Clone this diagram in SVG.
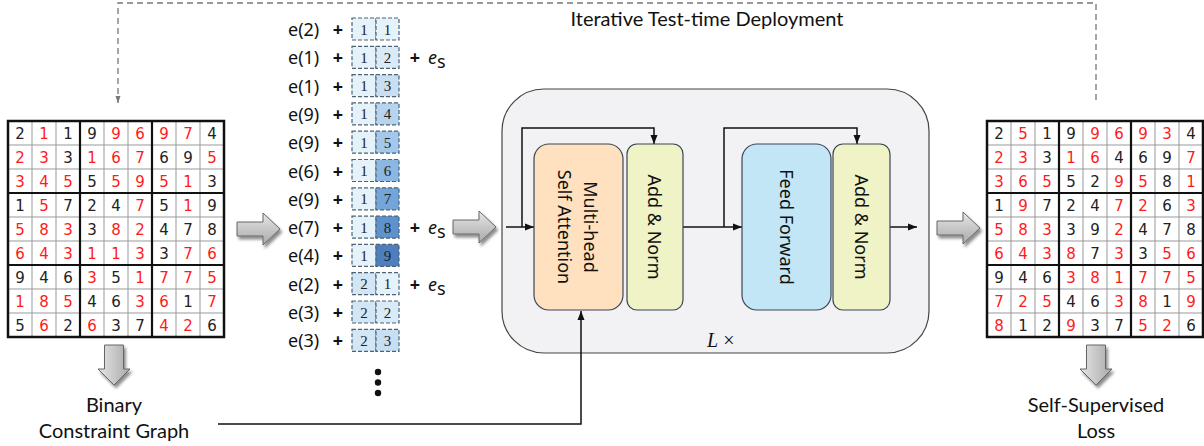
<svg xmlns="http://www.w3.org/2000/svg" xmlns:xlink="http://www.w3.org/1999/xlink" width="1204" height="446" viewBox="0 0 1204 446">
<style>
.r{fill:#ff1a1a}.k{fill:#222}
.sd text{font-family:"DejaVu Sans",sans-serif;font-size:15px;text-anchor:middle}
.lbl{font-family:Lato,"Noto Sans",sans-serif;font-size:20px;fill:#111;text-anchor:middle}
.tok{font-family:"Noto Sans",sans-serif;font-size:18px;fill:#111}
.plus{font-family:"Noto Sans",sans-serif;font-size:18px;font-weight:bold;fill:#111;text-anchor:middle}
.cell{stroke:#4d6375;stroke-width:1.2;stroke-dasharray:4 2}
.cd{font-family:"Liberation Serif",serif;font-size:15px;fill:#222;text-anchor:middle}
.blk{stroke:#3a4656;stroke-width:1.2}
.bt{font-family:"Noto Sans",sans-serif;font-size:18px;fill:#111;text-anchor:middle;dominant-baseline:central}
.ln{fill:none;stroke:#111;stroke-width:1.5}
.garrow{fill:url(#gg);stroke:#666;stroke-width:1;filter:url(#sh)}
</style>
<defs>
<linearGradient id="gg" x1="0" y1="0" x2="0" y2="1">
<stop offset="0" stop-color="#e6e6e6"/><stop offset="1" stop-color="#a9a9a9"/>
</linearGradient>
<linearGradient id="gd" x1="0" y1="0" x2="1" y2="0">
<stop offset="0" stop-color="#e6e6e6"/><stop offset="1" stop-color="#a9a9a9"/>
</linearGradient>
<filter id="sh" x="-30%" y="-30%" width="160%" height="160%">
<feGaussianBlur in="SourceAlpha" stdDeviation="1.5"/><feOffset dx="2" dy="3" result="b"/>
<feComponentTransfer><feFuncA type="linear" slope="0.45"/></feComponentTransfer>
<feMerge><feMergeNode/><feMergeNode in="SourceGraphic"/></feMerge>
</filter>
<marker id="ah" markerWidth="9" markerHeight="8" refX="9" refY="4" orient="auto" markerUnits="userSpaceOnUse"><path d="M0,0.5 L9,4 L0,7.5 Z" fill="#111"/></marker>
<marker id="ahg" markerWidth="7" markerHeight="6" refX="7" refY="3" orient="auto" markerUnits="userSpaceOnUse"><path d="M0,0.5 L7,3 L0,5.5 Z" fill="#777"/></marker>
<path id="rarr" d="M0,-7 H26 V-16 L43,0 L26,16 V7 H0 Z"/>
<path id="darr" d="M-9.5,0 H9.5 V24 H16 L0,40 L-16,24 H-9.5 Z"/>
<g id="gridlines">
<rect x="0" y="0" width="216" height="216" fill="#fff"/>
<path d="M24,0V216M48,0V216M96,0V216M120,0V216M168,0V216M192,0V216M0,24H216M0,48H216M0,96H216M0,120H216M0,168H216M0,192H216" stroke="#999" stroke-width="1" fill="none"/>
<path d="M72,0V216M144,0V216M0,72H216M0,144H216" stroke="#111" stroke-width="2.2" fill="none"/>
<rect x="0" y="0" width="216" height="216" fill="none" stroke="#111" stroke-width="2.5"/>
</g>
</defs>

<g id="transformer">
<rect x="502" y="89" width="427" height="264" rx="42" fill="#f2f2f5" stroke="#444" stroke-width="1.2"/>
<text x="707" y="347" font-family="Liberation Serif,serif" font-size="20" fill="#111"><tspan font-style="italic">L</tspan> ×</text>
</g>

<g id="connectors">
<path d="M1096,100 V3 H118 V103" fill="none" stroke="#777" stroke-width="1.3" stroke-dasharray="6 4" marker-end="url(#ahg)"/>
<path class="ln" d="M506,227 H534" marker-end="url(#ah)"/>
<path class="ln" d="M522,227 V128 H654 V144" marker-end="url(#ah)"/>
<path class="ln" d="M683,227 H742" marker-end="url(#ah)"/>
<path class="ln" d="M724,227 V128 H857 V144" marker-end="url(#ah)"/>
<path class="ln" d="M890,227 H917" marker-end="url(#ah)"/>
<path class="ln" d="M218,424 H581 V311" marker-end="url(#ah)"/>
</g>

<g id="mhsa">
<rect class="blk" x="534" y="144" width="89" height="166" rx="15" fill="#ffe1bf"/>
<g transform="translate(578.5,227) rotate(90)"><text class="bt" x="0" y="-12.5">Multi-head</text><text class="bt" x="0" y="13.5">Self Attention</text></g>
</g>
<g id="addnorm1">
<rect class="blk" x="627" y="144" width="56" height="166" rx="10" fill="#f0f3c6"/>
<text class="bt" transform="translate(655,227) rotate(90)">Add &amp; Norm</text>
</g>
<g id="ffn">
<rect class="blk" x="742" y="144" width="89" height="166" rx="15" fill="#c3e6f6"/>
<text class="bt" transform="translate(786.5,227) rotate(90)">Feed Forward</text>
</g>
<g id="addnorm2">
<rect class="blk" x="833" y="144" width="57" height="166" rx="10" fill="#f0f3c6"/>
<text class="bt" transform="translate(861.5,227) rotate(90)">Add &amp; Norm</text>
</g>

<g id="feedback-label"><text class="lbl" x="707" y="26" font-size="19">Iterative Test-time Deployment</text></g>

<g id="input-grid" class="sd" transform="translate(8,121)">
<use xlink:href="#gridlines"/>
<text x="12" y="17.5" class="k">2</text><text x="36" y="17.5" class="r">1</text><text x="60" y="17.5" class="k">1</text><text x="84" y="17.5" class="k">9</text><text x="108" y="17.5" class="r">9</text><text x="132" y="17.5" class="r">6</text><text x="156" y="17.5" class="r">9</text><text x="180" y="17.5" class="r">7</text><text x="204" y="17.5" class="k">4</text>
<text x="12" y="41.5" class="r">2</text><text x="36" y="41.5" class="r">3</text><text x="60" y="41.5" class="k">3</text><text x="84" y="41.5" class="r">1</text><text x="108" y="41.5" class="r">6</text><text x="132" y="41.5" class="r">7</text><text x="156" y="41.5" class="k">6</text><text x="180" y="41.5" class="k">9</text><text x="204" y="41.5" class="r">5</text>
<text x="12" y="65.5" class="r">3</text><text x="36" y="65.5" class="r">4</text><text x="60" y="65.5" class="r">5</text><text x="84" y="65.5" class="k">5</text><text x="108" y="65.5" class="r">5</text><text x="132" y="65.5" class="r">9</text><text x="156" y="65.5" class="r">5</text><text x="180" y="65.5" class="r">1</text><text x="204" y="65.5" class="k">3</text>
<text x="12" y="89.5" class="k">1</text><text x="36" y="89.5" class="r">5</text><text x="60" y="89.5" class="k">7</text><text x="84" y="89.5" class="k">2</text><text x="108" y="89.5" class="k">4</text><text x="132" y="89.5" class="r">7</text><text x="156" y="89.5" class="k">5</text><text x="180" y="89.5" class="r">1</text><text x="204" y="89.5" class="k">9</text>
<text x="12" y="113.5" class="r">5</text><text x="36" y="113.5" class="r">8</text><text x="60" y="113.5" class="r">3</text><text x="84" y="113.5" class="k">3</text><text x="108" y="113.5" class="r">8</text><text x="132" y="113.5" class="r">2</text><text x="156" y="113.5" class="k">4</text><text x="180" y="113.5" class="k">7</text><text x="204" y="113.5" class="k">8</text>
<text x="12" y="137.5" class="r">6</text><text x="36" y="137.5" class="r">4</text><text x="60" y="137.5" class="r">3</text><text x="84" y="137.5" class="r">1</text><text x="108" y="137.5" class="r">1</text><text x="132" y="137.5" class="r">3</text><text x="156" y="137.5" class="k">3</text><text x="180" y="137.5" class="r">7</text><text x="204" y="137.5" class="r">6</text>
<text x="12" y="161.5" class="k">9</text><text x="36" y="161.5" class="k">4</text><text x="60" y="161.5" class="k">6</text><text x="84" y="161.5" class="r">3</text><text x="108" y="161.5" class="k">5</text><text x="132" y="161.5" class="r">1</text><text x="156" y="161.5" class="r">7</text><text x="180" y="161.5" class="r">7</text><text x="204" y="161.5" class="r">5</text>
<text x="12" y="185.5" class="r">1</text><text x="36" y="185.5" class="r">8</text><text x="60" y="185.5" class="r">5</text><text x="84" y="185.5" class="k">4</text><text x="108" y="185.5" class="k">6</text><text x="132" y="185.5" class="r">3</text><text x="156" y="185.5" class="r">6</text><text x="180" y="185.5" class="k">1</text><text x="204" y="185.5" class="r">7</text>
<text x="12" y="209.5" class="k">5</text><text x="36" y="209.5" class="r">6</text><text x="60" y="209.5" class="k">2</text><text x="84" y="209.5" class="r">6</text><text x="108" y="209.5" class="k">3</text><text x="132" y="209.5" class="k">7</text><text x="156" y="209.5" class="r">4</text><text x="180" y="209.5" class="r">2</text><text x="204" y="209.5" class="k">6</text>
</g>

<g id="output-grid" class="sd" transform="translate(987,121)">
<use xlink:href="#gridlines"/>
<text x="12" y="17.5" class="k">2</text><text x="36" y="17.5" class="r">5</text><text x="60" y="17.5" class="k">1</text><text x="84" y="17.5" class="k">9</text><text x="108" y="17.5" class="r">9</text><text x="132" y="17.5" class="r">6</text><text x="156" y="17.5" class="r">9</text><text x="180" y="17.5" class="r">3</text><text x="204" y="17.5" class="k">4</text>
<text x="12" y="41.5" class="r">2</text><text x="36" y="41.5" class="r">3</text><text x="60" y="41.5" class="k">3</text><text x="84" y="41.5" class="r">1</text><text x="108" y="41.5" class="r">6</text><text x="132" y="41.5" class="k">4</text><text x="156" y="41.5" class="k">6</text><text x="180" y="41.5" class="k">9</text><text x="204" y="41.5" class="r">7</text>
<text x="12" y="65.5" class="r">3</text><text x="36" y="65.5" class="r">6</text><text x="60" y="65.5" class="r">5</text><text x="84" y="65.5" class="k">5</text><text x="108" y="65.5" class="k">2</text><text x="132" y="65.5" class="r">9</text><text x="156" y="65.5" class="r">5</text><text x="180" y="65.5" class="k">8</text><text x="204" y="65.5" class="r">1</text>
<text x="12" y="89.5" class="k">1</text><text x="36" y="89.5" class="r">9</text><text x="60" y="89.5" class="k">7</text><text x="84" y="89.5" class="k">2</text><text x="108" y="89.5" class="k">4</text><text x="132" y="89.5" class="r">7</text><text x="156" y="89.5" class="r">2</text><text x="180" y="89.5" class="k">6</text><text x="204" y="89.5" class="r">3</text>
<text x="12" y="113.5" class="r">5</text><text x="36" y="113.5" class="r">8</text><text x="60" y="113.5" class="r">3</text><text x="84" y="113.5" class="k">3</text><text x="108" y="113.5" class="k">9</text><text x="132" y="113.5" class="r">2</text><text x="156" y="113.5" class="k">4</text><text x="180" y="113.5" class="k">7</text><text x="204" y="113.5" class="k">8</text>
<text x="12" y="137.5" class="r">6</text><text x="36" y="137.5" class="r">4</text><text x="60" y="137.5" class="r">3</text><text x="84" y="137.5" class="r">8</text><text x="108" y="137.5" class="k">7</text><text x="132" y="137.5" class="r">3</text><text x="156" y="137.5" class="k">3</text><text x="180" y="137.5" class="r">5</text><text x="204" y="137.5" class="r">6</text>
<text x="12" y="161.5" class="k">9</text><text x="36" y="161.5" class="k">4</text><text x="60" y="161.5" class="k">6</text><text x="84" y="161.5" class="r">3</text><text x="108" y="161.5" class="r">8</text><text x="132" y="161.5" class="r">1</text><text x="156" y="161.5" class="r">7</text><text x="180" y="161.5" class="r">7</text><text x="204" y="161.5" class="r">5</text>
<text x="12" y="185.5" class="r">7</text><text x="36" y="185.5" class="r">2</text><text x="60" y="185.5" class="r">5</text><text x="84" y="185.5" class="k">4</text><text x="108" y="185.5" class="k">6</text><text x="132" y="185.5" class="r">3</text><text x="156" y="185.5" class="r">8</text><text x="180" y="185.5" class="k">1</text><text x="204" y="185.5" class="r">9</text>
<text x="12" y="209.5" class="r">8</text><text x="36" y="209.5" class="k">1</text><text x="60" y="209.5" class="k">2</text><text x="84" y="209.5" class="r">9</text><text x="108" y="209.5" class="k">3</text><text x="132" y="209.5" class="k">7</text><text x="156" y="209.5" class="r">5</text><text x="180" y="209.5" class="r">2</text><text x="204" y="209.5" class="k">6</text>
</g>

<g id="block-arrows">
<use xlink:href="#rarr" class="garrow" transform="translate(237,229)"/>
<use xlink:href="#rarr" class="garrow" transform="translate(453,227)"/>
<use xlink:href="#rarr" class="garrow" transform="translate(937,228)"/>
<use xlink:href="#darr" fill="url(#gd)" stroke="#666" stroke-width="1" filter="url(#sh)" transform="translate(114,345)"/>
<use xlink:href="#darr" fill="url(#gd)" stroke="#666" stroke-width="1" filter="url(#sh)" transform="translate(1096,345)"/>
</g>

<g id="constraint-graph"><text class="lbl" x="114" y="412">Binary</text><text class="lbl" x="114" y="438">Constraint Graph</text></g>
<g id="ss-loss"><text class="lbl" x="1096" y="412">Self-Supervised</text><text class="lbl" x="1096" y="438">Loss</text></g>

<g id="tokens">
<g transform="translate(0,18)"><text class="tok" x="288" y="18">e(2)</text><text class="plus" x="338" y="18">+</text><rect class="cell" x="352" y="0" width="24" height="22" fill="#e6f2fa"/><rect class="cell" x="376" y="0" width="23" height="22" fill="#e6f2fa"/><text class="cd" x="364" y="16.5">1</text><text class="cd" x="387.5" y="16.5">1</text></g>
<g transform="translate(0,46.3)"><text class="tok" x="288" y="18">e(1)</text><text class="plus" x="338" y="18">+</text><rect class="cell" x="352" y="0" width="24" height="22" fill="#e6f2fa"/><rect class="cell" x="376" y="0" width="23" height="22" fill="#daeaf7"/><text class="cd" x="364" y="16.5">1</text><text class="cd" x="387.5" y="16.5">2</text><text class="plus" x="415" y="18">+</text><text class="tok" x="428" y="18" font-family="Liberation Serif,serif" font-style="italic" font-size="20">e</text><text class="tok" x="437" y="22" font-size="13">s</text></g>
<g transform="translate(0,74.6)"><text class="tok" x="288" y="18">e(1)</text><text class="plus" x="338" y="18">+</text><rect class="cell" x="352" y="0" width="24" height="22" fill="#e6f2fa"/><rect class="cell" x="376" y="0" width="23" height="22" fill="#c8def2"/><text class="cd" x="364" y="16.5">1</text><text class="cd" x="387.5" y="16.5">3</text></g>
<g transform="translate(0,102.9)"><text class="tok" x="288" y="18">e(9)</text><text class="plus" x="338" y="18">+</text><rect class="cell" x="352" y="0" width="24" height="22" fill="#e6f2fa"/><rect class="cell" x="376" y="0" width="23" height="22" fill="#b7d4ee"/><text class="cd" x="364" y="16.5">1</text><text class="cd" x="387.5" y="16.5">4</text></g>
<g transform="translate(0,131.2)"><text class="tok" x="288" y="18">e(9)</text><text class="plus" x="338" y="18">+</text><rect class="cell" x="352" y="0" width="24" height="22" fill="#e6f2fa"/><rect class="cell" x="376" y="0" width="23" height="22" fill="#a4c8e9"/><text class="cd" x="364" y="16.5">1</text><text class="cd" x="387.5" y="16.5">5</text></g>
<g transform="translate(0,159.5)"><text class="tok" x="288" y="18">e(6)</text><text class="plus" x="338" y="18">+</text><rect class="cell" x="352" y="0" width="24" height="22" fill="#e6f2fa"/><rect class="cell" x="376" y="0" width="23" height="22" fill="#8cb7e1"/><text class="cd" x="364" y="16.5">1</text><text class="cd" x="387.5" y="16.5">6</text></g>
<g transform="translate(0,187.8)"><text class="tok" x="288" y="18">e(9)</text><text class="plus" x="338" y="18">+</text><rect class="cell" x="352" y="0" width="24" height="22" fill="#e6f2fa"/><rect class="cell" x="376" y="0" width="23" height="22" fill="#74a5d8"/><text class="cd" x="364" y="16.5">1</text><text class="cd" x="387.5" y="16.5">7</text></g>
<g transform="translate(0,216.1)"><text class="tok" x="288" y="18">e(7)</text><text class="plus" x="338" y="18">+</text><rect class="cell" x="352" y="0" width="24" height="22" fill="#e6f2fa"/><rect class="cell" x="376" y="0" width="23" height="22" fill="#5e92cd"/><text class="cd" x="364" y="16.5">1</text><text class="cd" x="387.5" y="16.5">8</text><text class="plus" x="415" y="18">+</text><text class="tok" x="428" y="18" font-family="Liberation Serif,serif" font-style="italic" font-size="20">e</text><text class="tok" x="437" y="22" font-size="13">s</text></g>
<g transform="translate(0,244.4)"><text class="tok" x="288" y="18">e(4)</text><text class="plus" x="338" y="18">+</text><rect class="cell" x="352" y="0" width="24" height="22" fill="#e6f2fa"/><rect class="cell" x="376" y="0" width="23" height="22" fill="#4e7ebe"/><text class="cd" x="364" y="16.5">1</text><text class="cd" x="387.5" y="16.5">9</text></g>
<g transform="translate(0,272.7)"><text class="tok" x="288" y="18">e(2)</text><text class="plus" x="338" y="18">+</text><rect class="cell" x="352" y="0" width="24" height="22" fill="#d3e6f5"/><rect class="cell" x="376" y="0" width="23" height="22" fill="#e6f2fa"/><text class="cd" x="364" y="16.5">2</text><text class="cd" x="387.5" y="16.5">1</text><text class="plus" x="415" y="18">+</text><text class="tok" x="428" y="18" font-family="Liberation Serif,serif" font-style="italic" font-size="20">e</text><text class="tok" x="437" y="22" font-size="13">s</text></g>
<g transform="translate(0,301)"><text class="tok" x="288" y="18">e(3)</text><text class="plus" x="338" y="18">+</text><rect class="cell" x="352" y="0" width="24" height="22" fill="#d3e6f5"/><rect class="cell" x="376" y="0" width="23" height="22" fill="#daeaf7"/><text class="cd" x="364" y="16.5">2</text><text class="cd" x="387.5" y="16.5">2</text></g>
<g transform="translate(0,329.3)"><text class="tok" x="288" y="18">e(3)</text><text class="plus" x="338" y="18">+</text><rect class="cell" x="352" y="0" width="24" height="22" fill="#d3e6f5"/><rect class="cell" x="376" y="0" width="23" height="22" fill="#c8def2"/><text class="cd" x="364" y="16.5">2</text><text class="cd" x="387.5" y="16.5">3</text></g>
<circle cx="378" cy="372" r="3.2" fill="#111"/><circle cx="378" cy="382.5" r="3.2" fill="#111"/><circle cx="378" cy="393" r="3.2" fill="#111"/>
</g>
</svg>
